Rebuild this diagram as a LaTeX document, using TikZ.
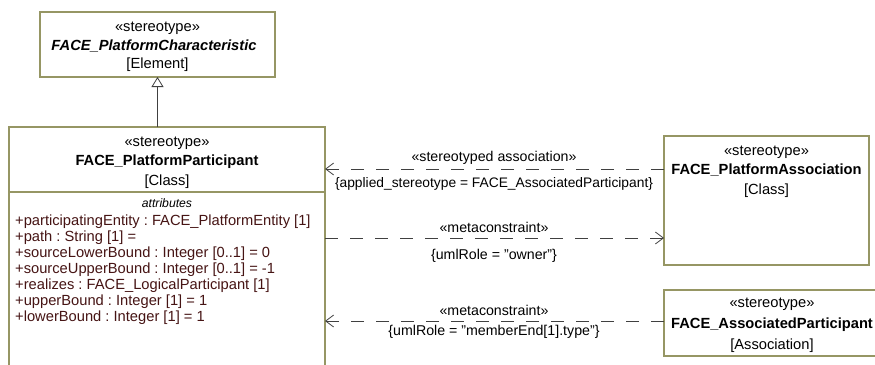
\documentclass[tikz,border=0pt]{standalone}
\usepackage{fontspec}
\setmainfont{Liberation Sans}
\usetikzlibrary{arrows.meta}
\definecolor{boxc}{RGB}{150,150,100}
\definecolor{attrc}{RGB}{70,20,20}
\definecolor{linec}{RGB}{64,64,64}
\frenchspacing
\begin{document}
\begin{tikzpicture}[x=1pt,y=-1pt,
  umlbox/.style={draw=boxc, line width=1.1pt, fill=white, inner sep=0pt, outer sep=0pt, anchor=north west},
  txt/.style={anchor=base, inner sep=0pt, font=\fontsize{14.7}{16}\selectfont},
  nametxt/.style={txt, font=\fontsize{14.7}{16}\selectfont\bfseries},
  attrtxt/.style={anchor=base west, inner sep=0pt, text=attrc, font=\fontsize{14.7}{16}\selectfont},
  lbl/.style={anchor=base, inner sep=0pt, font=\fontsize{14.2}{16}\selectfont},
  dep/.style={draw=linec, line width=0.8pt, dash pattern=on 13pt off 12pt, -{Straight Barb[length=8pt,width=12pt,line width=0.8pt]}},
  gen/.style={draw=linec, line width=0.8pt, -{Triangle[open,length=10pt,width=12pt,line width=0.8pt]}}
]
\useasboundingbox (0,0) rectangle (875,364);
\clip (0,0) rectangle (875,364);

% boxes
\node[umlbox, minimum width=235pt, minimum height=65pt] (elem) at (40,12) {};
\node[umlbox, minimum width=316pt, minimum height=260pt] (part) at (9,127) {};
\node[umlbox, minimum width=205pt, minimum height=129pt] (pa) at (664,136) {};
\node[umlbox, minimum width=230pt, minimum height=66pt] (ap) at (664,290) {};
\draw[boxc, line width=1.1pt] ([yshift=-65pt]part.north west) -- ([yshift=-65pt]part.north east);

% top box text
\node[txt] (e1) at (157.5,31) {«stereotype»};
\node[txt, font=\fontsize{14.7}{16}\selectfont\bfseries\itshape] (e2) at (154,50) {FACE\_PlatformCharacteristic};
\node[txt] (e3) at (157.5,68.5) {[Element]};

% main box text
\node[txt] (p1) at (167,146) {«stereotype»};
\node[nametxt] (p2) at (167,165) {FACE\_PlatformParticipant};
\node[txt] (p3) at (167,185) {[Class]};
\node[anchor=base, inner sep=0pt, font=\fontsize{12.2}{14}\selectfont\itshape] (p4) at (167,207.5) {attributes};
\node[attrtxt] (t1) at (15,225) {+participatingEntity : FACE\_PlatformEntity [1]};
\node[attrtxt] (t2) at (15,241) {+path : String [1] =};
\node[attrtxt] (t3) at (15,257) {+sourceLowerBound : Integer [0..1] = 0};
\node[attrtxt] (t4) at (15,273) {+sourceUpperBound : Integer [0..1] = -1};
\node[attrtxt] (t5) at (15,289) {+realizes : FACE\_LogicalParticipant [1]};
\node[attrtxt] (t6) at (15,305) {+upperBound : Integer [1] = 1};
\node[attrtxt] (t7) at (15,321) {+lowerBound : Integer [1] = 1};

% platform association text
\node[txt] (a1) at (766.5,155) {«stereotype»};
\node[nametxt] (a2) at (766.5,174) {FACE\_PlatformAssociation};
\node[txt] (a3) at (766.5,194) {[Class]};

% associated participant text
\node[txt] (b1) at (772,307) {«stereotype»};
\node[nametxt] (b2) at (772,328) {FACE\_AssociatedParticipant};
\node[txt] (b3) at (772,349) {[Association]};

% connectors
\draw[gen] (elem.south |- part.north) -- (elem.south);
\coordinate (c1) at ([yshift=-33pt]pa.north west);
\coordinate (c2) at ([yshift=-102pt]pa.north west);
\coordinate (c3) at ([yshift=-31pt]ap.north west);
\draw[dep] (c1) -- (c1 -| part.east);
\draw[dep] (c2 -| part.east) -- (c2);
\draw[dep] (c3) -- (c3 -| part.east);

% connector labels
\node[lbl] (l1) at (494,161) {«stereotyped association»};
\node[lbl, font=\fontsize{13.8}{16}\selectfont] (l2) at (494,187) {\{applied\_stereotype = FACE\_AssociatedParticipant\}};
\node[lbl] (l3) at (494,232) {«metaconstraint»};
\node[lbl] (l4) at (494,259) {\{umlRole = "owner"\}};
\node[lbl] (l5) at (494,315.5) {«metaconstraint»};
\node[lbl] (l6) at (494,335) {\{umlRole = "memberEnd[1].type"\}};
\end{tikzpicture}
\end{document}
